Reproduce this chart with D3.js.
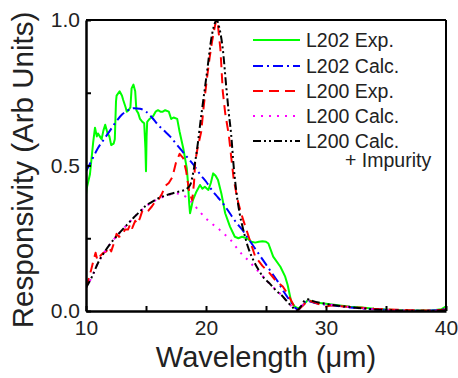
<!DOCTYPE html>
<html>
<head>
<meta charset="utf-8">
<script src="https://cdn.jsdelivr.net/npm/d3@7"></script>
<style>
  html, body { margin: 0; padding: 0; background: #fff; }
  svg { display: block; font-family: "Liberation Sans", Arial, Helvetica, sans-serif; }
</style>
</head>
<body>
<svg id="chart" width="458" height="378"></svg>
<script>
// ---- data (wavelength in µm, responsivity in arb. units) ----
const l202Exp = [
  [10.0,0.40],[10.05,0.42],[10.33,0.47],[10.6,0.58],[10.75,0.63],[10.9,0.60],[11.0,0.61],[11.15,0.60],
  [11.3,0.59],[11.45,0.62],[11.6,0.64],[11.8,0.61],[11.95,0.60],[12.1,0.57],[12.3,0.575],[12.4,0.59],
  [12.5,0.72],[12.55,0.74],[12.8,0.755],[13.0,0.74],[13.1,0.725],[13.3,0.70],[13.4,0.685],[13.55,0.69],
  [13.7,0.70],[13.8,0.765],[13.95,0.778],[14.1,0.755],[14.2,0.69],[14.35,0.68],[14.5,0.66],[14.7,0.65],
  [14.85,0.645],[14.95,0.56],[15.0,0.48],[15.05,0.60],[15.1,0.65],[15.3,0.66],[15.6,0.67],[15.8,0.685],
  [16.0,0.69],[16.2,0.685],[16.4,0.685],[16.6,0.69],[16.9,0.685],[17.1,0.66],[17.3,0.665],[17.6,0.66],
  [17.8,0.616],[18.1,0.56],[18.4,0.49],[18.5,0.44],[18.6,0.37],[18.67,0.336],[18.8,0.36],[18.9,0.38],
  [19.2,0.41],[19.5,0.433],[19.7,0.42],[19.9,0.427],[20.2,0.416],[20.4,0.44],[20.6,0.473],[20.8,0.465],
  [21.0,0.45],[21.3,0.40],[21.6,0.336],[22.0,0.29],[22.4,0.255],[22.7,0.25],[23.0,0.255],[23.4,0.25],
  [23.8,0.238],[24.1,0.235],[24.4,0.238],[24.7,0.24],[25.0,0.238],[25.2,0.232],[25.6,0.187],[26.2,0.152],
  [26.6,0.118],[26.8,0.09],[27.1,0.032],[27.4,0.015],[27.7,0.009],[28.1,0.02],[28.5,0.038],[29.0,0.03],
  [30,0.025],[31,0.02],[32,0.015],[33,0.012],[34,0.008],[35,0.005],[36,0.003],[37,0.002],[38,0.002],
  [39,0.003],[39.6,0.006],[40,0.016]
];
const l202Calc = [
  [10,0.48],[10.5,0.52],[11,0.56],[11.5,0.59],[12,0.62],[12.5,0.65],[13,0.675],[13.5,0.69],[14,0.697],
  [14.5,0.695],[15,0.685],[15.5,0.665],[16,0.64],[16.5,0.62],[17,0.60],[17.5,0.575],[18,0.55],[18.5,0.525],
  [19,0.50],[19.5,0.47],[20,0.445],[20.5,0.415],[21,0.39],[21.5,0.365],[22,0.335],[22.5,0.305],[23,0.28],
  [23.5,0.25],[24,0.22],[24.5,0.19],[25,0.16],[25.5,0.13],[26,0.10],[26.5,0.065],[27,0.035],[27.4,0.012],
  [27.7,0.004],[28.0,0.02],[28.4,0.035],[29,0.028],[30,0.022],[31,0.017],[32,0.012],[33,0.009],[34,0.006],
  [35,0.004],[36,0.002],[37,0.001],[38,0.001],[39,0.002],[40,0.008]
];
const l200Exp = [
  [10,0.08],[10.3,0.12],[10.6,0.17],[10.8,0.20],[10.95,0.175],[11.2,0.19],[11.45,0.20],[11.7,0.205],
  [11.9,0.22],[12.1,0.205],[12.3,0.23],[12.55,0.265],[12.75,0.255],[13.0,0.26],[13.25,0.28],[13.5,0.28],
  [13.7,0.30],[13.85,0.285],[14.1,0.31],[14.3,0.30],[14.5,0.32],[14.7,0.345],[14.9,0.34],[15.2,0.345],
  [15.5,0.36],[15.75,0.375],[16.0,0.38],[16.3,0.40],[16.6,0.43],[16.9,0.44],[17.2,0.46],[17.5,0.51],
  [17.8,0.54],[18.1,0.525],[18.35,0.48],[18.6,0.41],[18.85,0.38],[19.0,0.44],[19.1,0.513],[19.3,0.56],
  [19.6,0.616],[19.8,0.70],[20.05,0.79],[20.3,0.87],[20.5,0.925],[20.7,0.97],[20.85,1.0],[21.0,0.98],
  [21.2,0.90],[21.4,0.754],[21.6,0.68],[21.9,0.605],[22.1,0.53],[22.3,0.456],[22.5,0.41],[22.7,0.37],
  [22.9,0.34],[23.1,0.313],[23.6,0.25],[24.1,0.187],[24.7,0.155],[25.3,0.13],[25.8,0.105],[26.4,0.084],
  [26.7,0.065],[27.0,0.044],[27.3,0.02],[27.7,0.004],[28.1,0.02],[28.5,0.037],[29,0.03],[29.5,0.022],
  [30,0.015],[30.5,0.02],[31,0.017],[32,0.014],[33,0.011],[34,0.008],[35,0.006],[36,0.004],[37,0.003],
  [38,0.002],[39,0.002],[40,0.005]
];
const l200Calc = [
  [10,0.08],[10.5,0.118],[11,0.165],[11.5,0.20],[12,0.23],[12.5,0.255],[13,0.278],[13.5,0.30],[14,0.322],
  [14.5,0.342],[15,0.36],[15.5,0.373],[16,0.385],[16.5,0.393],[17,0.40],[17.5,0.404],[18,0.40],[18.4,0.39],
  [19,0.365],[19.5,0.34],[20,0.318],[20.5,0.30],[21,0.284],[21.5,0.265],[22,0.247],[22.5,0.22],[23,0.195],
  [23.5,0.175],[24,0.152],[24.5,0.13],[25,0.107],[25.5,0.085],[26,0.067],[26.5,0.045],[27,0.022],[27.3,0.01],
  [27.6,0.002],[27.9,0.012],[28.2,0.03],[28.5,0.037],[29,0.032],[30,0.024],[31,0.018],[32,0.013],[33,0.009],
  [34,0.006],[35,0.004],[36,0.002],[37,0.001],[38,0.001],[39,0.001],[40,0.004]
];
const l200CalcImp = [
  [10,0.08],[10.5,0.118],[11,0.165],[11.5,0.20],[12,0.23],[12.5,0.255],[13,0.278],[13.5,0.30],[14,0.322],
  [14.5,0.342],[15,0.362],[15.5,0.375],[16,0.387],[16.5,0.395],[17,0.402],[17.5,0.408],[18,0.413],[18.4,0.42],
  [18.7,0.435],[19.0,0.49],[19.2,0.54],[19.6,0.67],[20.05,0.81],[20.5,0.95],[20.8,0.995],[20.9,1.0],[21.1,0.975],
  [21.4,0.90],[21.7,0.765],[21.9,0.68],[22.1,0.605],[22.3,0.50],[22.5,0.42],[22.8,0.336],[23.1,0.28],[23.5,0.22],
  [24,0.17],[24.4,0.14],[24.8,0.115],[25.3,0.095],[25.8,0.072],[26.4,0.05],[26.9,0.026],[27.3,0.01],[27.6,0.003],
  [27.9,0.015],[28.2,0.035],[28.5,0.04],[29,0.033],[29.8,0.026],[30.5,0.021],[31.7,0.015],[33,0.009],[34.5,0.004],
  [36,0.002],[37.3,0.001],[39,0.001],[40,0.003]
];
const xTicks = [10, 15, 20, 25, 30, 35, 40];
const xTickLabels = ["10", "", "20", "", "30", "", "40"];
const yTicks = [0, 0.25, 0.5, 0.75, 1.0];
const yTickLabels = ["0.0", "", "0.5", "", "1.0"];
const seriesNames = ["L202 Exp.", "L202 Calc.", "L200 Exp.", "L200 Calc.", "L200 Calc."];
const seriesExtra = "+ Impurity";

// ---- layout ----
const svg = d3.select("#chart");
const mLeft = 86, mRight = 446, mTop = 20, mBottom = 311;
const x = d3.scaleLinear().domain([10, 40]).range([mLeft, mRight]);
const y = d3.scaleLinear().domain([0, 1]).range([mBottom, mTop]);

const styles = [
  { data: l202Exp,     color: "#00ff00", dash: null,          curve: d3.curveLinear },
  { data: l202Calc,    color: "#0000ff", dash: "10,4,2,4",    curve: d3.curveMonotoneX },
  { data: l200Exp,     color: "#ff0000", dash: "10,6",        curve: d3.curveLinear },
  { data: l200Calc,    color: "#ff00ff", dash: "2,6",         curve: d3.curveMonotoneX },
  { data: l200CalcImp, color: "#000000", dash: "8,3,2,3,2,3", curve: d3.curveMonotoneX }
];

svg.append("clipPath").attr("id", "clip")
  .append("rect").attr("x", mLeft).attr("y", mTop - 2).attr("width", mRight - mLeft).attr("height", mBottom - mTop + 2);

const plot = svg.append("g").attr("clip-path", "url(#clip)");
styles.forEach(s => {
  const line = d3.line().x(d => x(d[0])).y(d => y(d[1])).curve(s.curve);
  plot.append("path").datum(s.data)
    .attr("d", line)
    .attr("fill", "none")
    .attr("stroke", s.color)
    .attr("stroke-width", 2)
    .attr("stroke-dasharray", s.dash)
    .attr("stroke-linejoin", "round");
});

// frame top/right
svg.append("line").attr("x1", mLeft).attr("x2", mRight).attr("y1", mTop).attr("y2", mTop)
  .attr("stroke", "#000").attr("stroke-width", 2);
svg.append("line").attr("x1", mRight).attr("x2", mRight).attr("y1", mTop).attr("y2", mBottom)
  .attr("stroke", "#000").attr("stroke-width", 2);

// axes
const xAxis = d3.axisBottom(x).tickValues(xTicks).tickSize(-5).tickSizeOuter(0).tickPadding(9)
  .tickFormat((d, i) => xTickLabels[i]);
const gx = svg.append("g").attr("transform", `translate(0,${mBottom})`).call(xAxis);
const yAxis = d3.axisLeft(y).tickValues(yTicks).tickSize(-5).tickSizeOuter(0).tickPadding(6)
  .tickFormat((d, i) => yTickLabels[i]);
const gy = svg.append("g").attr("transform", `translate(${mLeft},0)`).call(yAxis);
[gx, gy].forEach(g => {
  g.select(".domain").attr("stroke", "#000").attr("stroke-width", 2.5);
  g.selectAll(".tick line").attr("stroke", "#000").attr("stroke-width", 2);
  g.selectAll(".tick text").attr("fill", "#222").style("font-size", "21px")
    .style("font-family", "'Liberation Sans', Arial, sans-serif");
});

// axis titles
svg.append("text").attr("x", (mLeft + mRight) / 2).attr("y", 367)
  .attr("text-anchor", "middle").attr("fill", "#222").style("font-size", "29px")
  .text("Wavelength (μm)");
svg.append("text").attr("transform", "translate(33,170) rotate(-90)")
  .attr("text-anchor", "middle").attr("fill", "#222").style("font-size", "29.5px")
  .text("Responsivity (Arb Units)");

// legend
const legY = [40, 66, 91, 116, 141];
const leg = svg.append("g");
styles.forEach((s, i) => {
  leg.append("line").attr("x1", 253).attr("x2", 300).attr("y1", legY[i]).attr("y2", legY[i])
    .attr("stroke", s.color).attr("stroke-width", 2).attr("stroke-dasharray", s.dash);
  leg.append("text").attr("x", 306).attr("y", legY[i]).attr("dy", "0.36em")
    .attr("fill", "#222").style("font-size", "19.5px").text(seriesNames[i]);
});
leg.append("text").attr("x", 345).attr("y", 160).attr("dy", "0.36em")
  .attr("fill", "#222").style("font-size", "19.5px").text(seriesExtra);
</script>
</body>
</html>
